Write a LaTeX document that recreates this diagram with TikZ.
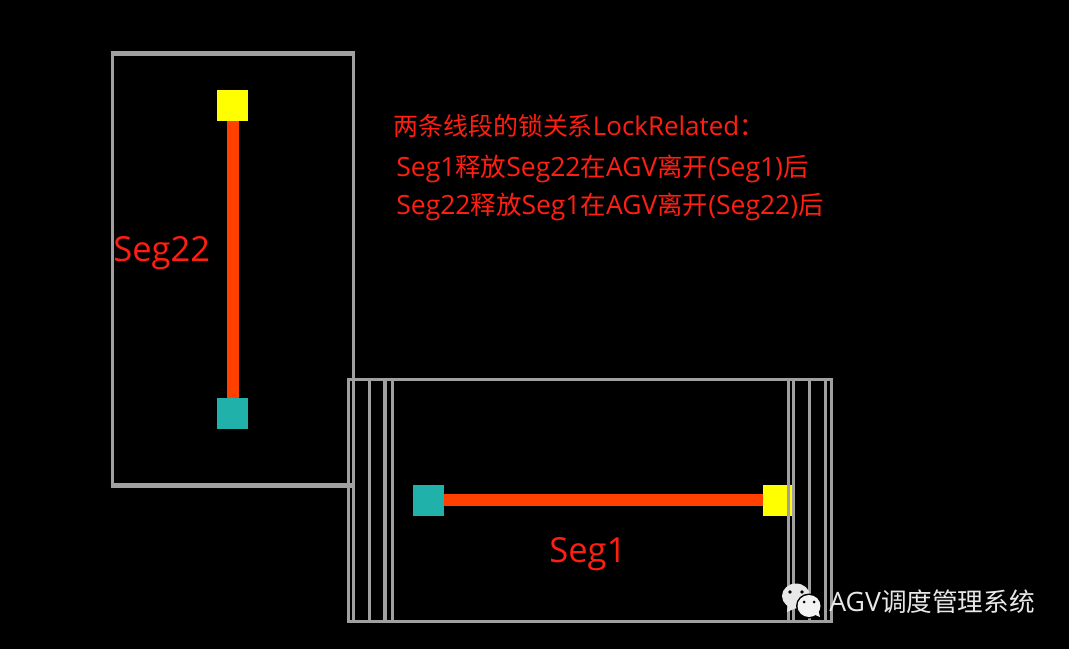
\documentclass[tikz,border=0pt]{standalone}
\usepackage{fontspec}
\usepackage{xcolor}
\setmainfont[Scale=1.04]{Open Sans}
\newfontfamily\cjk{Noto Sans CJK SC}
\usetikzlibrary{positioning}

\definecolor{lockred}{HTML}{FF1E12}
\definecolor{wallgray}{HTML}{A0A0A0}
\definecolor{segorange}{HTML}{FF4000}
\definecolor{startteal}{HTML}{20B2AA}
\definecolor{endyellow}{HTML}{FFFF00}
\definecolor{markgray}{HTML}{E8E8E8}

\tikzset{
  endbox/.style={minimum size=0.62cm, inner sep=0pt, outer sep=0pt},
  seg/.style={line width=0.24cm, draw=segorange},
  wall/.style={line width=0.06cm, draw=wallgray},
  lbl/.style={text=lockred, inner sep=0pt, anchor=west},
  bigtxt/.style={font=\fontsize{18.9}{22}\selectfont},
  midtxt/.style={font=\fontsize{14.2}{16}\selectfont},
  reltxt/.style={font=\fontsize{14.5}{16}\selectfont},
}

\begin{document}
\begin{tikzpicture}[x=0.02cm, y=-0.02cm]
  % Background
  \fill[black] (0,0) rectangle (1069,649);
  \useasboundingbox (0,0) rectangle (1069,649);

  % Seg22 area
  \draw[wall] (112,53) -- (112,485);
  \draw[wall] (353,53) -- (353,485);
  \draw[wall, line width=0.1cm] (110.5,53) -- (354.5,53);
  \draw[wall, line width=0.1cm] (110.5,485) -- (353,485);

  % Seg1 area
  \draw[wall] (348,379) rectangle (831.5,621);
  \foreach \x in {353,369,392,809,825}
    \draw[wall] (\x,379) -- (\x,621);
  \draw[wall, line width=0.09cm] (385,379) -- (385,621);

  % Seg22 line
  \node[endbox, fill=endyellow] (seg22end) at (232.5,105.5) {};
  \node[endbox, fill=startteal] (seg22start) at (232.5,413.5) {};
  \draw[seg] (seg22start) -- (seg22end);

  % Seg1 line
  \node[endbox, fill=startteal] (seg1start) at (428.5,500) {};
  \node[endbox, fill=endyellow] (seg1end) at (778.5,500) {};
  \draw[seg] (seg1start) -- (seg1end);
  \foreach \x in {788.5,793.5}
    \draw[wall] (\x,379) -- (\x,621);

  % Labels
  \node[lbl, bigtxt] (seg22label) at (113,253) {Seg22};
  \node[lbl, bigtxt] (seg1label) at (549,554) {Seg1};

  % Lock relation
  \node[lbl, midtxt] (title) at (393,126) {{\cjk 两条线段的锁关系}LockRelated{\cjk ：}};
  \node[lbl, reltxt] (rel1) at (396,169) {Seg1{\cjk 释放}Seg22{\cjk 在}AGV{\cjk 离开}(Seg1){\cjk 后}};
  \node[lbl, reltxt] (rel2) at (396,207) {Seg22{\cjk 释放}Seg1{\cjk 在}AGV{\cjk 离开}(Seg22){\cjk 后}};

  % Watermark
  \fill[markgray] (796,596) ellipse (14 and 12.5);
  \fill[markgray] (788,604) -- (787,612) -- (796,608) -- cycle;
  \fill[black] (809,606) ellipse (13 and 12.5);
  \fill[white!95!black] (809,606) ellipse (11.5 and 11);
  \fill[white!95!black] (813,614) -- (820,617) -- (818,609) -- cycle;
  \fill[black] (790,592) circle (1.8) (802,592) circle (1.8) (804,602) circle (1.5) (814,602) circle (1.5);
  \node[lbl, text=markgray, font=\fontsize{14.6}{16}\selectfont] (mark) at (829,602) {AGV{\cjk 调度管理系统}};
\end{tikzpicture}
\end{document}
